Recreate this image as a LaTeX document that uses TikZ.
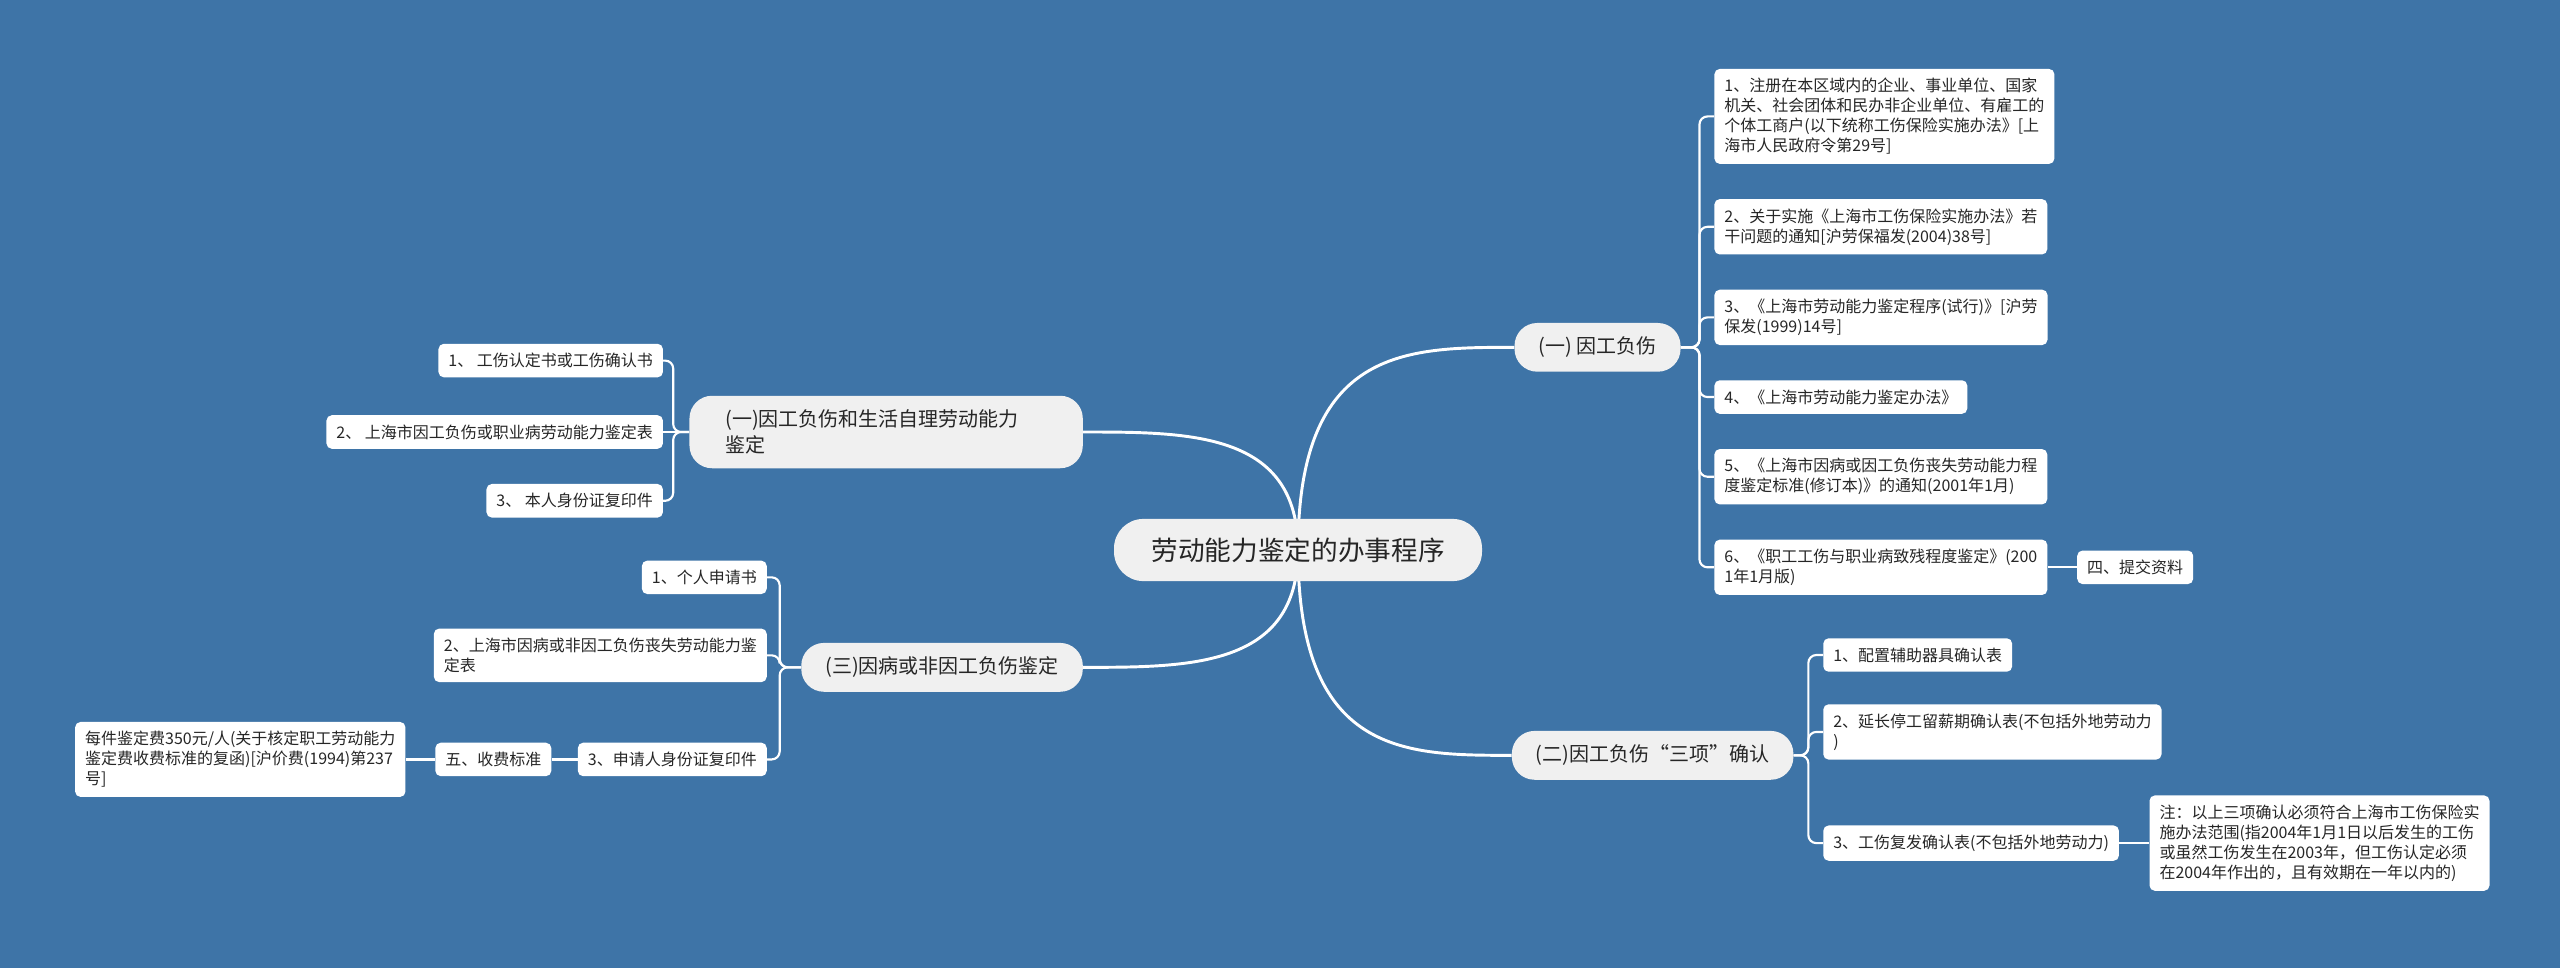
\documentclass[tikz,border=0pt]{standalone}
\usepackage{fontspec}
\setmainfont{Noto Sans CJK SC}
\usepackage{xcolor}
\usepackage{tikz}
\usetikzlibrary{positioning, calc, backgrounds}
\definecolor{bgblue}{RGB}{62, 116, 167}
\definecolor{hubgray}{RGB}{240, 240, 240}
\definecolor{inkgray}{RGB}{38, 38, 38}
\tikzset{
    rootbox/.style = {rectangle, fill=hubgray, text=inkgray, rounded corners=22pt, inner xsep=28pt, inner ysep=14pt, font=\fontsize{20pt}{24pt}\selectfont},
    hub/.style = {rectangle, fill=hubgray, text=inkgray, rounded corners=17pt, inner xsep=18pt, inner ysep=10.5pt, align=left, font=\fontsize{15pt}{19.5pt}\selectfont},
    leaf/.style = {rectangle, fill=white, text=inkgray, rounded corners=4pt, inner xsep=7.5pt, inner ysep=7pt, align=left, font=\fontsize{12pt}{15pt}\selectfont},
    trunk/.style = {draw=white, line width=2.2pt},
    twig/.style = {draw=white, line width=1.6pt, rounded corners=6pt}
}

\begin{document}
\begin{tikzpicture}[x=0.75pt, y=-0.75pt]
\useasboundingbox (0,0) rectangle (2560,968);
% Nodes
\node (root) [rootbox] at (1298,550) {劳动能力鉴定的办事程序};

\node (injury) [hub, right=24pt of root, yshift=152pt] {(一) 因工负伤};
\node (triple) [hub, right=22pt of root, yshift=-154pt] {(二)因工负伤“三项”确认};
\node (selfcare) [hub, text width=241pt, inner xsep=27pt, left=23pt of root, yshift=88.5pt] {(一)因工负伤和生活自理劳动能力\\鉴定};
\node (illness) [hub, left=23pt of root, yshift=-88pt] {(三)因病或非因工负伤鉴定};

\node (law1) [leaf, right=25pt of injury.east, anchor=north west, yshift=209pt] {1、注册在本区域内的企业、事业单位、国家\\机关、社会团体和民办非企业单位、有雇工的\\个体工商户(以下统称工伤保险实施办法》[上\\海市人民政府令第29号]};
\node (law2) [leaf, below=26pt of law1.south west, anchor=north west] {2、关于实施《上海市工伤保险实施办法》若\\干问题的通知[沪劳保福发(2004)38号]};
\node (law3) [leaf, below=26pt of law2.south west, anchor=north west] {3、《上海市劳动能力鉴定程序(试行)》[沪劳\\保发(1999)14号]};
\node (law4) [leaf, below=26pt of law3.south west, anchor=north west] {4、《上海市劳动能力鉴定办法》};
\node (law5) [leaf, below=26pt of law4.south west, anchor=north west] {5、《上海市因病或因工负伤丧失劳动能力程\\度鉴定标准(修订本)》的通知(2001年1月)};
\node (law6) [leaf, below=26pt of law5.south west, anchor=north west] {6、《职工工伤与职业病致残程度鉴定》(200\\1年1月版)};
\node (submit) [leaf, right=22pt of law6] {四、提交资料};

\node (conf1) [leaf, right=22pt of triple.east, anchor=north west, yshift=88pt] {1、配置辅助器具确认表};
\node (conf2) [leaf, below=24pt of conf1.south west, anchor=north west] {2、延长停工留薪期确认表(不包括外地劳动力\\)};
\node (conf3) [leaf, below=49pt of conf2.south west, anchor=north west] {3、工伤复发确认表(不包括外地劳动力)};
\node (note) [leaf, right=22.5pt of conf3] {注：以上三项确认必须符合上海市工伤保险实\\施办法范围(指2004年1月1日以后发生的工伤\\或虽然工伤发生在2003年，但工伤认定必须\\在2004年作出的，且有效期在一年以内的)};

\node (doc2) [leaf, left=19.5pt of selfcare] {2、 上海市因工负伤或职业病劳动能力鉴定表};
\node (doc1) [leaf, above=28pt of doc2.north east, anchor=south east] {1、 工伤认定书或工伤确认书};
\node (doc3) [leaf, below=26pt of doc2.south east, anchor=north east] {3、 本人身份证复印件};

\node (app2) [leaf, left=25.5pt of illness, yshift=9pt] {2、上海市因病或非因工负伤丧失劳动能力鉴\\定表};
\node (app1) [leaf, above=25.5pt of app2.north east, anchor=south east] {1、个人申请书};
\node (app3) [leaf, below=45pt of app2.south east, anchor=north east] {3、申请人身份证复印件};
\node (fee) [leaf, left=19.5pt of app3] {五、收费标准};
\node (feenote) [leaf, left=22pt of fee] {每件鉴定费350元/人(关于核定职工劳动能力\\鉴定费收费标准的复函)[沪价费(1994)第237\\号]};

% Connectors
\begin{scope}[on background layer]
\fill[bgblue] (0,0) rectangle (2560,968);
\foreach \h/\a in {injury/west, triple/west, selfcare/east, illness/east}
    \draw[trunk] (root.center) .. controls (root.center |- \h.\a) and ($(root.center |- \h.\a)!0.5!(\h.\a)$) .. (\h.\a);
\foreach \i in {1,...,6}
    \draw[twig] (injury.east) -- ++(14pt,0) |- (law\i.west);
\foreach \i in {1,2,3}
    \draw[twig] (triple.east) -- ++(11pt,0) |- (conf\i.west);
\foreach \i in {1,3}
    \draw[twig] (selfcare.west) -- ++(-12pt,0) |- (doc\i.east);
\draw[twig] (selfcare.west) -- (doc2.east);
\foreach \i in {1,2,3}
    \draw[twig] (illness.west) -- ++(-16pt,0) |- (app\i.east);
\draw[twig] (law6) -- (submit);
\draw[twig] (conf3) -- (note);
\draw[twig] (app3) -- (fee);
\draw[twig] (fee) -- (feenote);
\end{scope}
\end{tikzpicture}
\end{document}
